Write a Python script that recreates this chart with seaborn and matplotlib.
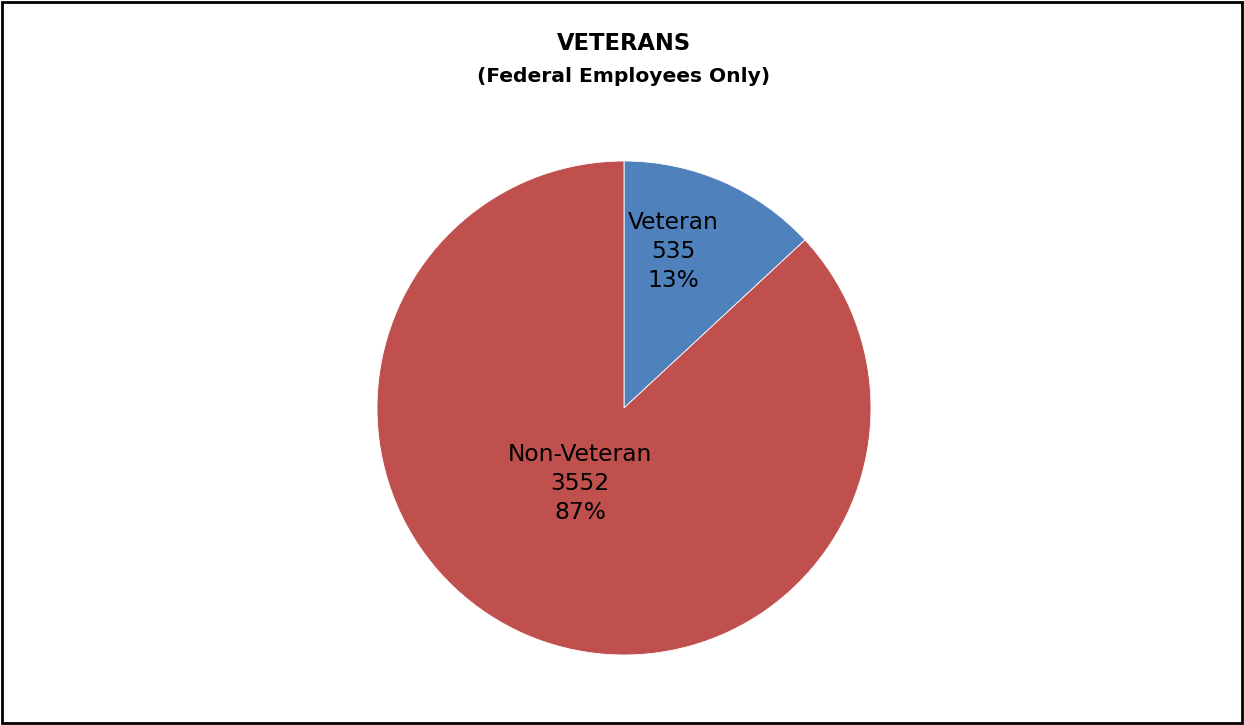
import matplotlib
matplotlib.use("Agg")
import matplotlib.pyplot as plt
import seaborn as sns

# Federal employees by veteran status
categories = ["Veteran", "Non-Veteran"]
counts = [535, 3552]
percent_labels = ["13%", "87%"]
slice_colors = ["#4F81BD", "#C0504D"]

sns.set_style("white")
plt.rcParams["font.family"] = ["DejaVu Sans"]

W, H = 1244, 725
fig = plt.figure(figsize=(W / 100, H / 100), dpi=100)
fig.patch.set_facecolor("white")

# Pie axes: centre at (624, 408) px from top-left, radius 247 px
cx, cy, r = 624, 408, 247
half = 300
ax = fig.add_axes([(cx - half) / W, (H - cy - half) / H, 2 * half / W, 2 * half / H])
wedges, _ = ax.pie(
    counts,
    colors=sns.color_palette(slice_colors),
    startangle=90,
    counterclock=False,
    radius=1.0,
    wedgeprops=dict(edgecolor="white", linewidth=0.6),
)
lim = half / r
ax.set_xlim(-lim, lim)
ax.set_ylim(-lim, lim)
ax.set_aspect("equal")
ax.axis("off")

# Data labels: category, count and share
label_pos = [(0.198, 0.632), (-0.178, -0.304)]
for name, n, pct, (lx, ly) in zip(categories, counts, percent_labels, label_pos):
    ax.text(lx, ly, f"{name}\n{n}\n{pct}", ha="center", va="center",
            fontsize=16.8, linespacing=1.33, color="black")

# Titles
fig.text(cx / W, 1 - 43 / H, "VETERANS", ha="center", va="center",
         fontsize=16.3, fontweight="bold", color="black")
fig.text(cx / W, 1 - 76 / H, "(Federal Employees Only)", ha="center", va="center",
         fontsize=14.6, fontweight="bold", color="black")

# Chart border
border = plt.Rectangle((1.5 / W, 2 / H), 1 - 4 / W, 1 - 4 / H, transform=fig.transFigure,
                       fill=False, edgecolor="black", linewidth=2)
fig.patches.append(border)

fig.savefig("out.png", dpi=100, facecolor="white")
